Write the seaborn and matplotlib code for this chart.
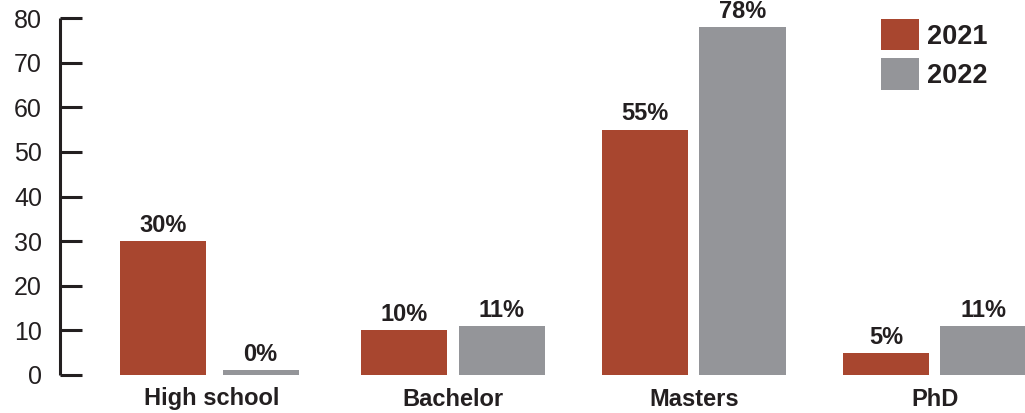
import numpy as np
import pandas as pd
import matplotlib
matplotlib.use("Agg")
import matplotlib.pyplot as plt
from matplotlib.patches import Patch
import seaborn as sns

# Education level breakdown, share of respondents (%)
categories = ["High school", "Bachelor", "Masters", "PhD"]
years = ["2021", "2022"]
share_2021 = [30, 10, 55, 5]
share_2022 = [0, 11, 78, 11]
y_ticks = [0, 10, 20, 30, 40, 50, 60, 70, 80]

colors = {"2021": "#A8462F", "2022": "#949599"}
ink = "#231F20"

df = pd.DataFrame({
    "level": categories * 2,
    "year": [years[0]] * len(categories) + [years[1]] * len(categories),
    "share": share_2021 + share_2022,
})

sns.set_theme(style="white")
plt.rcParams["font.family"] = ["Liberation Sans", "DejaVu Sans"]

fig = plt.figure(figsize=(10.25, 4.13), dpi=100)
ax = fig.add_axes([60 / 1025, 38 / 413, 965 / 1025, 357 / 413])

sns.barplot(data=df, x="level", y="share", hue="year", order=categories,
            hue_order=years, palette=colors, width=0.81, gap=0.118,
            saturation=1, legend=False, ax=ax, linewidth=0)

ax.set_ylim(0, 80)
ax.set_xlim(-0.6305, 3.375)

# zero-valued bars: keep them at 0 but draw a thin stroke so they stay visible
px_per_unit = 240.9
stub_px = 10
for p in ax.patches:
    if p.get_height() == 0:
        p.set_edgecolor(p.get_facecolor())
        p.set_linewidth(stub_px * 72 / 100)
        p.set_joinstyle("miter")
        shrink = stub_px / px_per_unit
        p.set_x(p.get_x() + shrink / 2)
        p.set_width(p.get_width() - shrink)

# value labels above each bar
for p in ax.patches:
    h = p.get_height()
    extra = stub_px / 2 * 72 / 100 if h == 0 else 0
    ax.annotate(f"{h:.0f}%", xy=(p.get_x() + p.get_width() / 2, h),
                xytext=(0, 3 + extra), textcoords="offset points",
                ha="center", va="bottom", fontsize=17, fontweight="bold",
                color=ink)

ax.set_yticks(y_ticks)
ax.set_yticklabels([str(t) for t in y_ticks])
ax.tick_params(axis="y", direction="in", length=16, width=2.2, color=ink,
               pad=13, labelsize=18, labelcolor=ink, left=True)
ax.tick_params(axis="x", length=0, pad=9, labelsize=17, labelcolor=ink)
for lbl in ax.get_xticklabels():
    lbl.set_fontweight("bold")

ax.set_xlabel("")
ax.set_ylabel("")
for side in ["top", "right", "bottom"]:
    ax.spines[side].set_visible(False)
ax.spines["left"].set_linewidth(2.2)
ax.spines["left"].set_color(ink)
ax.spines["left"].set_capstyle("butt")

handles = [Patch(facecolor=colors[y], edgecolor="none", label=y) for y in years]
leg = ax.legend(handles=handles, loc="upper left",
                bbox_to_anchor=(881 / 1025, 1 - 19 / 413),
                bbox_transform=fig.transFigure, frameon=False,
                prop={"size": 19.5, "weight": "bold"},
                handlelength=1.4, handleheight=1.4, handletextpad=0.3,
                labelspacing=0.3, borderpad=0, borderaxespad=0)
for t in leg.get_texts():
    t.set_color(ink)

fig.savefig("out.png", dpi=100)
